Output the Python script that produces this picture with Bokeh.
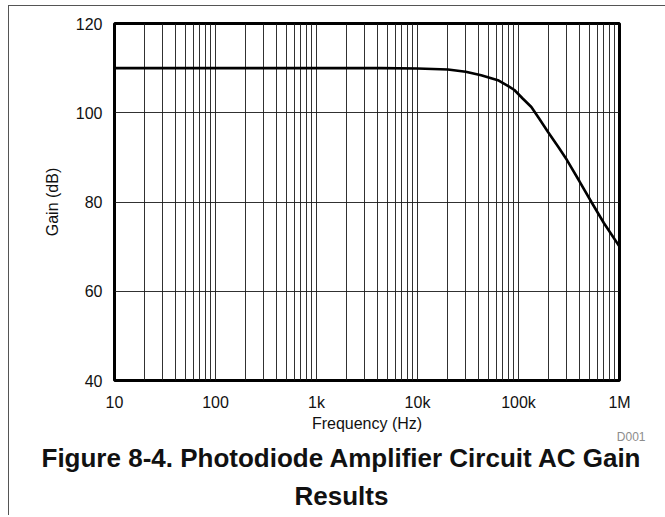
from bokeh.plotting import figure
from bokeh.models import FixedTicker, Title, Range1d
from bokeh.embed import file_html
from bokeh.resources import INLINE

# ---- data ----
freq_hz = [10, 100, 1000, 4360, 10000, 20000, 30000, 42700, 62500, 80000, 91000,
           110000, 134000, 160000, 196000, 250000, 302000, 400000, 527000, 700000, 1000000]
gain_db = [110.0, 110.0, 110.0, 110.0, 109.9, 109.7, 109.2, 108.4, 107.3, 105.9, 105.1,
           103.2, 101.3, 98.7, 95.7, 92.2, 89.4, 84.7, 80.0, 75.3, 70.0]

x_major = [10, 100, 1000, 10000, 100000, 1000000]
x_labels = ["10", "100", "1k", "10k", "100k", "1M"]
x_minor_mult = [2, 3, 4, 5, 6, 7, 8, 9]
y_ticks = [40, 60, 80, 100, 120]

title_line1 = "Figure 8-4. Photodiode Amplifier Circuit AC Gain"
title_line2 = "Results"
x_title = "Frequency (Hz)"
y_title = "Gain (dB)"
code_tag = "D001"

FONT = "Liberation Sans"

p = figure(x_axis_type="log", x_range=Range1d(10, 1e6), y_range=Range1d(40, 120),
           frame_width=505, frame_height=357,
           min_border_left=105, min_border_right=46, min_border_top=17, min_border_bottom=135,
           output_backend="svg", toolbar_location=None,
           background_fill_color="white", border_fill_color="white")
p.styles = {"margin-left": "8px", "margin-top": "5px",
            "border-left": "1px solid #555555", "border-top": "1px solid #555555"}

minor = [m * d for d in x_major[:-1] for m in x_minor_mult]
p.xaxis.ticker = FixedTicker(ticks=x_major, minor_ticks=minor)
p.xaxis.major_label_overrides = {t: l for t, l in zip(x_major, x_labels)}
p.yaxis.ticker = FixedTicker(ticks=y_ticks)

for ax in (p.xaxis, p.yaxis):
    ax.axis_line_color = None
    ax.major_tick_line_color = None
    ax.minor_tick_line_color = None
    ax.major_label_text_font = FONT
    ax.major_label_text_font_size = "16px"
    ax.major_label_text_color = "#111111"
    ax.axis_label_text_font = FONT
    ax.axis_label_text_font_size = "16px"
    ax.axis_label_text_font_style = "normal"
    ax.axis_label_text_color = "#111111"

p.xaxis.axis_label = x_title
p.yaxis.axis_label = y_title
p.xaxis.major_label_standoff = 7
p.xaxis.axis_label_standoff = 1
p.yaxis.major_label_standoff = 6
p.yaxis.axis_label_standoff = 12

p.xgrid.grid_line_color = "#1a1a1a"
p.xgrid.grid_line_width = 0.9
p.xgrid.minor_grid_line_color = "#1a1a1a"
p.xgrid.minor_grid_line_width = 0.9
p.ygrid.grid_line_color = "#1a1a1a"
p.ygrid.grid_line_width = 0.9

p.outline_line_color = "black"
p.outline_line_width = 3

p.line(freq_hz, gain_db, line_color="black", line_width=2.6)

p.add_layout(Title(text=code_tag, align="right", offset=-26, standoff=-13,
                   text_font=FONT, text_font_size="12px", text_font_style="normal",
                   text_color="#8c8c8c"), "below")
p.add_layout(Title(text=title_line1, align="left", offset=-73, standoff=6,
                   text_font=FONT, text_font_size="26px", text_font_style="bold",
                   text_color="#111111"), "below")
p.add_layout(Title(text=title_line2, align="left", offset=180, standoff=7,
                   text_font=FONT, text_font_size="26px", text_font_style="bold",
                   text_color="#111111"), "below")

open("out.html", "w").write(file_html(p, INLINE))
